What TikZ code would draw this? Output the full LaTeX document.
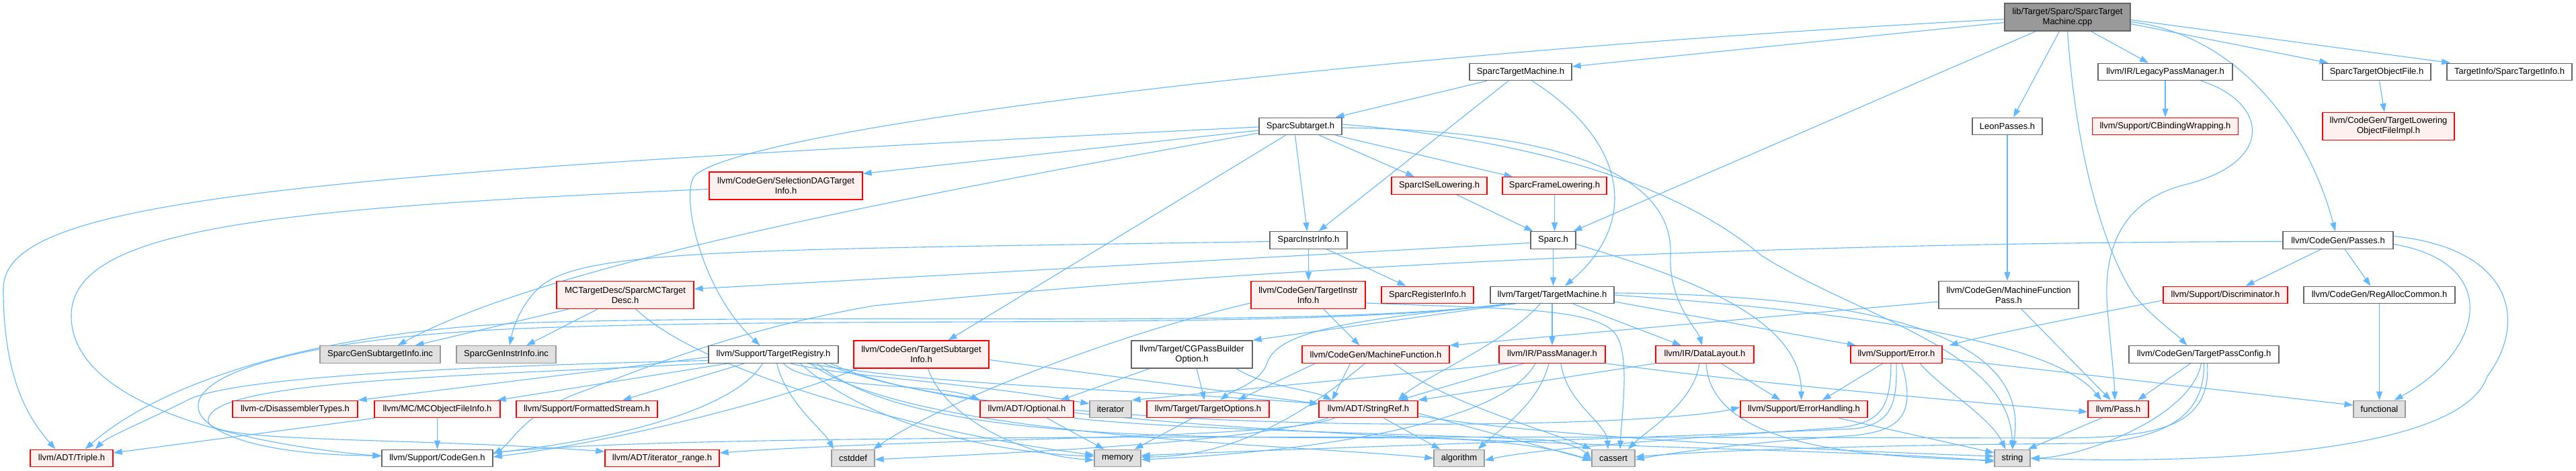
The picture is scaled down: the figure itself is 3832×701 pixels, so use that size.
\documentclass[tikz,border=0pt]{standalone}
\usepackage{fontspec}
\setmainfont{Liberation Sans}
\usetikzlibrary{arrows.meta}
\definecolor{edgec}{HTML}{63B8FF}
\definecolor{redfill}{HTML}{FFF0F0}
\definecolor{grayfill}{HTML}{E0E0E0}
\definecolor{graybd}{HTML}{999999}
\definecolor{nodebd}{HTML}{666666}
\definecolor{mainfill}{HTML}{999999}
\pgfdeclarelayer{bg}
\pgfsetlayers{bg,main}
\begin{document}
\begin{tikzpicture}[x=1pt,y=-1pt,
  nbase/.style={draw, line width=1.2pt, inner sep=0pt, minimum height=25.5pt, font=\fontsize{13}{15}\selectfont, align=center, text=black},
  nd/.style={nbase, draw=nodebd, fill=white},
  rd/.style={nbase, draw=red, fill=redfill},
  gr/.style={nbase, draw=graybd, fill=grayfill},
  mn/.style={nbase, draw=nodebd, fill=mainfill},
  two/.style={minimum height=41pt},
  edg/.style={draw=edgec, line width=1.1pt, -{Triangle[length=13pt,width=9pt]}}]
\useasboundingbox (0,0) rectangle (3832,701);
\begin{pgfonlayer}{bg}
\fill[white] (0,0) rectangle (3832,701);
\end{pgfonlayer}

% ---------- nodes ----------
\node[mn, two, minimum width=187] (cpp) at (3075.5,25.5) {lib/Target/Sparc/SparcTarget\\Machine.cpp};
\node[nd, minimum width=152] (stm) at (2262,107) {SparcTargetMachine.h};
\node[nd, minimum width=200] (lpm) at (3221,107) {llvm/IR/LegacyPassManager.h};
\node[nd, minimum width=161] (stof) at (3535.5,107) {SparcTargetObjectFile.h};
\node[nd, minimum width=186] (sti) at (3733,107) {TargetInfo/SparcTargetInfo.h};
\node[nd, minimum width=123] (sst) at (1934.5,188) {SparcSubtarget.h};
\node[nd, minimum width=104] (leon) at (2986,188) {LeonPasses.h};
\node[rd, minimum width=217] (cbw) at (3221,188) {llvm/Support/CBindingWrapping.h};
\node[rd, two, minimum width=196] (tlof) at (3553,188) {llvm/CodeGen/TargetLowering\\ObjectFileImpl.h};
\node[rd, two, minimum width=228] (sdag) at (1169,276.5) {llvm/CodeGen/SelectionDAGTarget\\Info.h};
\node[rd, minimum width=142] (isel) at (2141,276.5) {SparcISelLowering.h};
\node[rd, minimum width=155] (frame) at (2312.5,276.5) {SparcFrameLowering.h};
\node[nd, minimum width=115] (sii) at (1946.5,357.5) {SparcInstrInfo.h};
\node[nd, minimum width=67] (sparc) at (2310.5,357.5) {Sparc.h};
\node[nd, minimum width=164] (passes) at (3478,357.5) {llvm/CodeGen/Passes.h};
\node[rd, two, minimum width=204] (mctd) at (930,439) {MCTargetDesc/SparcMCTarget\\Desc.h};
\node[rd, two, minimum width=170] (tii) at (1946,439) {llvm/CodeGen/TargetInstr\\Info.h};
\node[rd, minimum width=137] (sri) at (2123.5,439) {SparcRegisterInfo.h};
\node[nd, minimum width=184] (tm) at (2309,439) {llvm/Target/TargetMachine.h};
\node[nd, two, minimum width=208] (mfp) at (2988,439) {llvm/CodeGen/MachineFunction\\Pass.h};
\node[rd, minimum width=185] (disc) at (3310.5,439) {llvm/Support/Discriminator.h};
\node[nd, minimum width=225] (rac) at (3539.5,439) {llvm/CodeGen/RegAllocCommon.h};
\node[gr, minimum width=179] (gsi) at (565.5,527.5) {SparcGenSubtargetInfo.inc};
\node[gr, minimum width=148] (gii) at (753,527.5) {SparcGenInstrInfo.inc};
\node[nd, minimum width=193] (treg) at (1150.5,527.5) {llvm/Support/TargetRegistry.h};
\node[rd, two, minimum width=201] (tsi) at (1370.5,527.5) {llvm/CodeGen/TargetSubtarget\\Info.h};
\node[nd, two, minimum width=180] (cgpb) at (1773,527.5) {llvm/Target/CGPassBuilder\\Option.h};
\node[rd, minimum width=219] (mf) at (2046.5,527.5) {llvm/CodeGen/MachineFunction.h};
\node[rd, minimum width=158] (pm) at (2309,527.5) {llvm/IR/PassManager.h};
\node[rd, minimum width=146] (dl) at (2536,527.5) {llvm/IR/DataLayout.h};
\node[rd, minimum width=136] (err) at (2821,527.5) {llvm/Support/Error.h};
\node[nd, minimum width=223] (tpc) at (3278.5,527.5) {llvm/CodeGen/TargetPassConfig.h};
\node[rd, minimum width=186] (dis) at (439,609) {llvm-c/DisassemblerTypes.h};
\node[rd, minimum width=187] (mcofi) at (650.5,609) {llvm/MC/MCObjectFileInfo.h};
\node[rd, minimum width=210] (fs) at (873,609) {llvm/Support/FormattedStream.h};
\node[rd, minimum width=139] (opt) at (1527.5,609) {llvm/ADT/Optional.h};
\node[gr, minimum width=62] (iter) at (1652,609) {iterator};
\node[rd, minimum width=182] (topt) at (1797,609) {llvm/Target/TargetOptions.h};
\node[rd, minimum width=147] (sref) at (2035.5,609) {llvm/ADT/StringRef.h};
\node[rd, minimum width=189] (eh) at (2683.5,609) {llvm/Support/ErrorHandling.h};
\node[rd, minimum width=90] (pass) at (3151,609) {llvm/Pass.h};
\node[gr, minimum width=77] (func) at (3539.5,609) {functional};
\node[rd, minimum width=123] (triple) at (106.5,682) {llvm/ADT/Triple.h};
\node[nd, minimum width=165] (cg) at (650.5,682) {llvm/Support/CodeGen.h};
\node[rd, minimum width=170] (irange) at (985,682) {llvm/ADT/iterator\_range.h};
\node[gr, minimum width=64] (cstddef) at (1269,682) {cstddef};
\node[gr, minimum width=69] (memory) at (1662.5,682) {memory};
\node[gr, minimum width=75] (algorithm) at (2170.5,682) {algorithm};
\node[gr, minimum width=64] (cassert) at (2400,682) {cassert};
\node[gr, minimum width=53] (string) at (2993.5,682) {string};

% ---------- edges ----------
\begin{pgfonlayer}{bg}
% SparcTargetMachine.cpp
\draw[edg] ([yshift=-8]cpp.west) -- ([yshift=8]stm.east);
\draw[edg] ([yshift=-3]cpp.west) .. controls (2000,80) and (1120,190) .. (1035,260) .. controls (1010,281) and (1040,430) .. ([xshift=-20]treg.north);
\draw[edg] ([xshift=-47]cpp.south) -- ([xshift=30]sparc.north);
\draw[edg] ([xshift=-12]cpp.south) -- ([xshift=9]leon.north);
\draw[edg] (cpp.south) .. controls (3090,250) and (3135,380) .. (3175,440) .. controls (3205,475) and (3235,495) .. ([xshift=-25]tpc.north);
\draw[edg] ([xshift=35]cpp.south) -- ([xshift=-25]lpm.north);
\draw[edg] ([yshift=-10]cpp.east) -- ([xshift=-72]stof.north);
\draw[edg] ([yshift=-4]cpp.east) -- ([xshift=-88]sti.north);
\draw[edg] ([yshift=-7]cpp.east) .. controls (3320,50) and (3430,180) .. ([xshift=-4]passes.north);
% SparcTargetMachine.h
\draw[edg] ([xshift=-50]stm.south) -- ([xshift=52]sst.north);
\draw[edg] ([xshift=-18]stm.south) -- ([xshift=15]sii.north);
\draw[edg] ([xshift=17]stm.south) .. controls (2420,210) and (2440,330) .. ([xshift=19]tm.north);
% SparcSubtarget.h
\draw[edg] ([yshift=-1]sst.west) .. controls (400,260) and (5,300) .. (5,430) .. controls (5,560) and (40,620) .. ([xshift=-24]triple.north);
\draw[edg] ([yshift=-6]sst.west) -- ([yshift=-3]sdag.north east);
\draw[edg] ([yshift=-10]sst.west) .. controls (1300,300) and (800,400) .. ([xshift=26]gsi.north);
\draw[edg] ([xshift=-22]sst.south) -- ([xshift=40]tsi.north);
\draw[edg] ([xshift=-8]sst.south) -- ([xshift=-2]sii.north);
\draw[edg] ([xshift=28]sst.south) -- ([xshift=-37]isel.north);
\draw[edg] ([xshift=52]sst.south) -- ([xshift=-62]frame.north);
\draw[edg] ([yshift=-2]sst.east) .. controls (2350,195) and (2490,270) .. (2485,380) .. controls (2482,450) and (2525,490) .. ([xshift=-4]dl.north);
\draw[edg] ([yshift=3]sst.east) .. controls (2300,210) and (2500,280) .. (2620,380) .. controls (2760,470) and (2990,520) .. (string.north);
% lowering
\draw[edg] ([xshift=26]isel.south) -- ([xshift=-30]sparc.north);
\draw[edg] (frame.south) -- ([xshift=2]sparc.north);
% SparcInstrInfo.h
\draw[edg] (sii.south) -- (sii.south |- tii.north);
\draw[edg] ([xshift=27]sii.south) -- ([xshift=-32]sri.north);
\draw[edg] ([yshift=-2]sii.west) .. controls (1100,372) and (860,370) .. (800,430) .. controls (770,460) and (762,495) .. ([xshift=5]gii.north);
% Sparc.h
\draw[edg] (sparc.south) -- (sparc.south |- tm.north);
\draw[edg] ([yshift=-4]sparc.west) -- ([yshift=9]mctd.east);
\draw[edg] ([yshift=-6]sparc.east) .. controls (2500,410) and (2680,470) .. ([xshift=-4]eh.north);
% TargetInstrInfo.h
\draw[edg] ([xshift=23]tii.south) -- ([xshift=-24]mf.north);
\draw[edg] ([yshift=-12]tii.east) .. controls (2250,460) and (2380,458) .. (2405,500) .. controls (2425,534) and (2412,620) .. ([xshift=10]cassert.north);
\draw[edg] ([yshift=-12]tii.west) .. controls (1650,500) and (1400,600) .. ([xshift=30]cstddef.north);
% TargetMachine.h
\draw[edg] (tm.south) -- (pm.north);
\draw[edg] ([xshift=31]tm.south) -- ([xshift=-35]dl.north);
\draw[edg] ([xshift=-18]tm.south) .. controls (2240,510) and (2120,560) .. ([xshift=44]sref.north);
\draw[edg] ([yshift=-10]tm.east) -- ([xshift=-60]err.north);
\draw[edg] (tm.east) .. controls (2700,460) and (3050,500) .. ([xshift=-25]pass.north);
\draw[edg] ([yshift=3]tm.east) .. controls (2850,440) and (3020,520) .. (string.north);
\draw[edg] ([xshift=-60]tm.south) -- (cgpb.north east);
\draw[edg] ([xshift=-55]tm.south) .. controls (2000,475) and (1900,495) .. (1885,540) .. controls (1875,570) and (1835,580) .. ([xshift=18]topt.north);
\draw[edg] ([xshift=-70]tm.south) .. controls (1950,490) and (1300,465) .. (800,480) .. controls (500,490) and (250,560) .. ([xshift=20]triple.north);
\draw[edg] ([xshift=-70]tm.south) .. controls (1950,492) and (1300,470) .. (800,488) .. controls (450,500) and (260,560) .. (300,620) .. controls (340,670) and (480,678) .. ([yshift=4]cg.west);
% PassManager.h
\draw[edg] ([xshift=-42]pm.south) -- ([xshift=46]sref.north);
\draw[edg] ([xshift=-25]pm.south) .. controls (2230,640) and (1900,675) .. ([yshift=-2]memory.east);
\draw[edg] ([xshift=-5]pm.south) .. controls (2290,600) and (2230,640) .. ([xshift=28]algorithm.north);
\draw[edg] ([xshift=13]pm.south) .. controls (2330,600) and (2390,630) .. ([xshift=-8]cassert.north);
\draw[edg] ([xshift=-60]pm.south) -- (iter.north east);
\draw[edg] (pm.south east) .. controls (2600,570) and (2950,600) .. ([yshift=-4]pass.west);
% DataLayout.h
\draw[edg] (dl.south west) -- (sref.north east);
\draw[edg] ([xshift=-8]dl.south) .. controls (2520,600) and (2450,640) .. ([xshift=22]cassert.north);
\draw[edg] ([xshift=24]dl.south) -- ([xshift=-35]eh.north);
\draw[edg] ([xshift=2]dl.south) .. controls (2545,660) and (2750,680) .. ([yshift=-3]string.west);
% Error.h
\draw[edg] ([xshift=-20]err.south) -- ([xshift=27]eh.north);
\draw[edg] (err.south) .. controls (2822,600) and (2815,630) .. (2760,638) .. controls (2500,650) and (2000,665) .. ([yshift=4]memory.east);
\draw[edg] ([xshift=-8]err.south) .. controls (2812,605) and (2800,628) .. (2740,636) .. controls (2550,650) and (2300,665) .. ([yshift=-3]algorithm.east);
\draw[edg] ([xshift=8]err.south) .. controls (2850,615) and (2830,640) .. (2760,648) .. controls (2600,658) and (2480,675) .. ([yshift=-2]cassert.east);
\draw[edg] ([xshift=35]err.south) .. controls (2890,580) and (2960,620) .. ([xshift=-10]string.north);
\draw[edg] ([yshift=-6]err.east) -- ([yshift=6]func.west);
% ErrorHandling.h, Pass.h
\draw[edg] ([xshift=52]eh.south) -- ([yshift=8]string.west);
\draw[edg] ([xshift=-25]pass.south) -- ([xshift=-4]string.north east);
% MachineFunctionPass.h, LeonPasses.h
\draw[edg] ([yshift=-10]mfp.west) -- (mf.north east);
\draw[edg] ([xshift=19]mfp.south) -- ([xshift=-11]pass.north);
\draw[edg] (leon.south) -- (leon.south |- mfp.north);
% LegacyPassManager.h
\draw[edg] (lpm.south) -- (cbw.north);
\draw[edg] ([xshift=53]lpm.south) .. controls (3370,150) and (3390,240) .. (3250,275) .. controls (3150,300) and (3128,380) .. (3135,460) .. controls (3140,520) and (3145,560) .. ([xshift=-5]pass.north);
% SparcTargetObjectFile.h
\draw[edg] ([xshift=4]stof.south) -- ([xshift=-6]tlof.north);
% Passes.h
\draw[edg] ([xshift=-25]passes.south) -- ([xshift=30]disc.north);
\draw[edg] ([xshift=10]passes.south) -- ([xshift=-13]rac.north);
\draw[edg] ([yshift=-6]passes.east) .. controls (3720,390) and (3700,520) .. ([xshift=22]func.north);
\draw[edg] ([yshift=6]passes.east) .. controls (3740,370) and (3760,480) .. (3700,560) .. controls (3660,680) and (3250,690) .. (string.east);
\draw[edg] ([yshift=-2]passes.west) .. controls (2800,360) and (2000,385) .. (1300,455) .. controls (1100,490) and (980,540) .. (860,585) .. controls (780,615) and (760,660) .. ([yshift=6]cg.east);
% RegAllocCommon.h, Discriminator.h
\draw[edg] (rac.south) -- (rac.south |- func.north);
\draw[edg] ([yshift=-8]disc.west) .. controls (3100,470) and (2950,500) .. ([xshift=10]err.north east);
% TargetPassConfig.h
\draw[edg] ([xshift=-20]tpc.south) -- ([xshift=29]pass.north);
\draw[edg] ([xshift=-4]tpc.south) .. controls (3260,620) and (3100,680) .. (string.east);
\draw[edg] (tpc.south) .. controls (3280,620) and (3220,655) .. (3100,660) .. controls (2800,662) and (2550,670) .. ([yshift=2]cassert.east);
\draw[edg] ([xshift=5]tpc.south) .. controls (3290,640) and (3200,652) .. (3050,652) .. controls (2000,650) and (1000,645) .. ([yshift=8]cg.east);
% TargetSubtargetInfo.h
\draw[edg] ([yshift=-8]tsi.east) -- ([yshift=8]sref.west);
\draw[edg] ([xshift=-95]tsi.south) .. controls (1150,600) and (900,660) .. ([yshift=2]cg.east);
\draw[edg] ([xshift=10]tsi.south) .. controls (1400,610) and (1500,675) .. ([yshift=-3]memory.west);
% CGPassBuilderOption.h
\draw[edg] ([xshift=-63]cgpb.south) -- ([xshift=50]opt.north);
\draw[edg] ([xshift=7]cgpb.south) -- ([xshift=-5]topt.north);
\draw[edg] ([xshift=66]cgpb.south) .. controls (1880,575) and (1950,580) .. ([xshift=-54]sref.north);
% Optional.h, TargetOptions.h
\draw[edg] ([xshift=30]opt.south) -- ([xshift=-20]memory.north);
\draw[edg] (opt.south east) .. controls (1750,640) and (2100,645) .. (2300,655) .. controls (2340,660) and (2355,670) .. ([yshift=-2]cassert.west);
\draw[edg] ([xshift=-23]topt.south) -- ([xshift=25]memory.north);
% StringRef.h
\draw[edg] ([xshift=23]sref.south) -- ([xshift=-28]algorithm.north);
\draw[edg] ([yshift=-6]sref.east) -- ([yshift=-3]cassert.west);
\draw[edg] ([yshift=-10]sref.east) .. controls (2300,650) and (2700,670) .. ([yshift=3]string.west);
\draw[edg] ([xshift=-50]sref.south) .. controls (1900,655) and (1400,650) .. ([yshift=8]irange.east);
\draw[edg] ([xshift=-60]sref.south) .. controls (1850,662) and (1450,676) .. ([yshift=-2]cstddef.east);
% MachineFunction.h
\draw[edg] ([xshift=-38]mf.south) -- ([xshift=-54]sref.north);
\draw[edg] ([xshift=-16]mf.south) .. controls (1960,600) and (1850,680) .. ([yshift=2]memory.east);
\draw[edg] ([xshift=-90]mf.south) -- ([xshift=44]topt.north);
\draw[edg] ([xshift=27]mf.south) .. controls (2150,600) and (2300,640) .. (cassert.north west);
% SparcMCTargetDesc.h
\draw[edg] ([xshift=-84]mctd.south) -- ([xshift=52]gsi.north);
\draw[edg] ([xshift=-41]mctd.south) -- ([xshift=30]gii.north);
\draw[edg] ([xshift=16]mctd.south) .. controls (1050,560) and (1400,650) .. ([yshift=5]memory.west);
% MCObjectFileInfo.h
\draw[edg] ([xshift=-93]mcofi.south) -- ([yshift=8]triple.east);
\draw[edg] (mcofi.south) -- (cg.north);
% SelectionDAGTargetInfo.h
\draw[edg] ([yshift=-5]sdag.west) .. controls (400,310) and (106,340) .. (106,470) .. controls (106,600) and (350,660) .. ([yshift=3]cg.west);
% TargetRegistry.h
\draw[edg] ([yshift=-4]treg.west) -- (dis.north east);
\draw[edg] ([xshift=-67]treg.south) -- ([xshift=89]mcofi.north);
\draw[edg] ([xshift=-43]treg.south) -- ([xshift=53]fs.north);
\draw[edg] ([xshift=-16]treg.south) .. controls (1100,600) and (950,650) .. ([yshift=8]cg.east);
\draw[edg] ([yshift=-9]treg.west) .. controls (700,545) and (350,560) .. (280,595) .. controls (210,630) and (160,650) .. ([xshift=35]triple.north);
\draw[edg] (treg.south west) .. controls (700,560) and (300,565) .. (310,628) .. controls (315,660) and (600,650) .. ([yshift=10]irange.west);
\draw[edg] ([xshift=5]treg.south) .. controls (1170,600) and (1225,640) .. ([xshift=-29]cstddef.north);
\draw[edg] ([xshift=15]treg.south) .. controls (1200,580) and (1400,570) .. (opt.north west);
\draw[edg] ([xshift=25]treg.south) .. controls (1250,560) and (1450,570) .. ([yshift=8]iter.west);
\draw[edg] ([xshift=40]treg.south) .. controls (1300,640) and (1500,675) .. ([yshift=3]memory.west);
\draw[edg] ([xshift=55]treg.south) .. controls (1350,650) and (1900,660) .. (algorithm.west);
\draw[edg] ([xshift=65]treg.south) .. controls (1350,660) and (1800,650) .. (2100,652) .. controls (2250,653) and (2330,672) .. ([yshift=-4]cassert.west);
\draw[edg] ([xshift=75]treg.south) .. controls (1500,655) and (2450,640) .. ([yshift=3]eh.west);
\draw[edg] ([xshift=85]treg.south) .. controls (1500,665) and (2700,660) .. ([yshift=-5]string.west);
\draw[edg] ([xshift=50]treg.south) .. controls (1400,575) and (1700,580) .. ([yshift=8]sref.west);
\end{pgfonlayer}
\end{tikzpicture}
\end{document}
